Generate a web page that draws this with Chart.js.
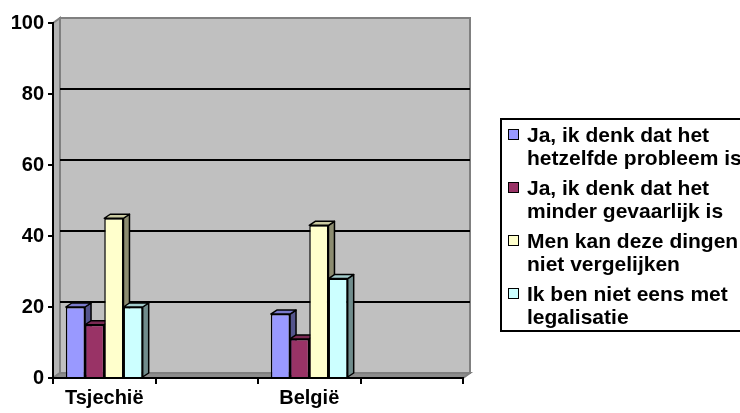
<!DOCTYPE html>
<html>
<head>
<meta charset="utf-8">
<script src="https://cdn.jsdelivr.net/npm/chart.js@4.4.1/dist/chart.umd.min.js"></script>
<style>
  body { margin: 0; background: #fff; }
  #wrap { position: relative; width: 740px; height: 413px; overflow: hidden; }
  #legend {
    position: absolute; left: 500px; top: 118px; width: 400px;
    border: 2px solid #000; padding: 3px 0 2px 6px;
    font: bold 21px 'Liberation Sans', Arial, sans-serif; line-height: 23px; color: #000;
  }
  .item { display: flex; margin-bottom: 7px; }
  .item:last-child { margin-bottom: 0; }
  .sw { flex: none; width: 9px; height: 9px; border: 1.5px solid #000; margin: 6px 8px 0 0; }
</style>
</head>
<body>
<div id="wrap">
  <canvas id="grafiek" width="740" height="413"></canvas>
  <div id="legend"></div>
</div>
<script>
// categorieën (2e en 4e plek zijn lege vakken op de as)
const landen = ['Tsjechië', '', 'België', ''];
const reeksNamen = [
    ['Ja, ik denk dat het', 'hetzelfde probleem is'],
    ['Ja, ik denk dat het', 'minder gevaarlijk is'],
    ['Men kan deze dingen', 'niet vergelijken'],
    ['Ik ben niet eens met', 'legalisatie']
];
const zelfdeProbleem = [20, null, 18, null];
const minderGevaarlijk = [15, null, 11, null];
const nietVergelijken = [45, null, 43, null];
const nietEens = [20, null, 28, null];
const yTicks = [0, 20, 40, 60, 80, 100];

const kleuren = ['#9999ff', '#993366', '#ffffcc', '#ccffff'];
const lettertype = "'Liberation Sans', Arial, sans-serif";

// diepte van het 3D effect
const wandDx = 7, wandDy = -5;
const balkDx = 6, balkDy = -4;

function donkerder(hex, f) {
    const n = parseInt(hex.slice(1), 16);
    const r = Math.round(((n >> 16) & 255) * f);
    const g = Math.round(((n >> 8) & 255) * f);
    const b = Math.round((n & 255) * f);
    return `rgb(${r},${g},${b})`;
}

function vlak(ctx, punten, vulling) {
    ctx.beginPath();
    ctx.moveTo(punten[0][0], punten[0][1]);
    for (let i = 1; i < punten.length; i++) ctx.lineTo(punten[i][0], punten[i][1]);
    ctx.closePath();
    ctx.fillStyle = vulling;
    ctx.fill();
    ctx.stroke();
}

const wanden3d = {
    id: 'wanden3d',
    beforeDraw(chart) {
        const { ctx, chartArea: a, scales: { y } } = chart;
        ctx.save();
        ctx.strokeStyle = '#808080';
        ctx.lineWidth = 2;
        // zijwand
        vlak(ctx, [[a.left, a.top], [a.left + wandDx, a.top + wandDy], [a.left + wandDx, a.bottom + wandDy], [a.left, a.bottom]], '#b4b4b4');
        // vloer
        vlak(ctx, [[a.left, a.bottom], [a.left + wandDx, a.bottom + wandDy], [a.right + wandDx, a.bottom + wandDy], [a.right, a.bottom]], '#8c8c8c');
        // achterwand
        vlak(ctx, [[a.left + wandDx, a.top + wandDy], [a.right + wandDx, a.top + wandDy], [a.right + wandDx, a.bottom + wandDy], [a.left + wandDx, a.bottom + wandDy]], '#c0c0c0');
        // rasterlijnen op de achterwand
        ctx.strokeStyle = '#000';
        ctx.lineWidth = 2;
        yTicks.forEach(v => {
            if (v === 0 || v === 100) return;
            const py = Math.round(y.getPixelForValue(v) + wandDy);
            ctx.beginPath();
            ctx.moveTo(a.left + wandDx, py);
            ctx.lineTo(a.right + wandDx, py);
            ctx.stroke();
        });
        ctx.restore();
    },
    beforeDatasetsDraw(chart) {
        const ctx = chart.ctx;
        const balken = [];
        chart.data.datasets.forEach((ds, i) => {
            chart.getDatasetMeta(i).data.forEach((el, j) => {
                if (ds.data[j] == null) return;
                balken.push({ el, kleur: kleuren[i] });
            });
        });
        balken.sort((p, q) => p.el.x - q.el.x);
        ctx.save();
        ctx.strokeStyle = '#000';
        ctx.lineWidth = 1.5;
        ctx.lineJoin = 'round';
        balken.forEach(({ el, kleur }) => {
            const l = el.x - el.width / 2, r = el.x + el.width / 2;
            const t = el.y, b = el.base;
            vlak(ctx, [[r, t], [r + balkDx, t + balkDy], [r + balkDx, b + balkDy], [r, b]], donkerder(kleur, 0.55));
            vlak(ctx, [[l, t], [l + balkDx, t + balkDy], [r + balkDx, t + balkDy], [r, t]], donkerder(kleur, 0.8));
        });
        ctx.restore();
    }
};

const reeksen = [zelfdeProbleem, minderGevaarlijk, nietVergelijken, nietEens];

new Chart(document.getElementById('grafiek'), {
    type: 'bar',
    data: {
        labels: landen,
        datasets: reeksen.map((data, i) => ({
            label: reeksNamen[i].join(' '),
            data: data,
            backgroundColor: kleuren[i],
            borderColor: '#000',
            borderWidth: 1.5,
            categoryPercentage: 0.75,
            barPercentage: 1
        }))
    },
    options: {
        responsive: false,
        animation: false,
        layout: { padding: { left: 0, top: 23, right: 277, bottom: 0 } },
        plugins: { legend: { display: false }, tooltip: { enabled: false } },
        scales: {
            x: {
                grid: { offset: true, drawOnChartArea: false, tickLength: 6, color: '#000', lineWidth: 2 },
                border: { color: '#000', width: 2 },
                ticks: { color: '#000', padding: 2, font: { family: lettertype, size: 20, weight: 'bold' } },
                afterFit: s => { s.height = 35; }
            },
            y: {
                min: 0,
                max: 100,
                afterBuildTicks: s => { s.ticks = yTicks.map(v => ({ value: v })); },
                grid: { drawOnChartArea: false, tickLength: 5, color: '#000', lineWidth: 2 },
                border: { color: '#000', width: 2 },
                ticks: { color: '#000', padding: 4, font: { family: lettertype, size: 20, weight: 'bold' } },
                afterFit: s => { s.width = 53; }
            }
        }
    },
    plugins: [wanden3d]
});

// legenda als gewone tekst
const legenda = document.getElementById('legend');
reeksNamen.forEach((regels, i) => {
    const item = document.createElement('div');
    item.className = 'item';
    item.innerHTML = `<span class="sw" style="background:${kleuren[i]}"></span><span>${regels.join('<br>')}</span>`;
    legenda.appendChild(item);
});
</script>
</body>
</html>
